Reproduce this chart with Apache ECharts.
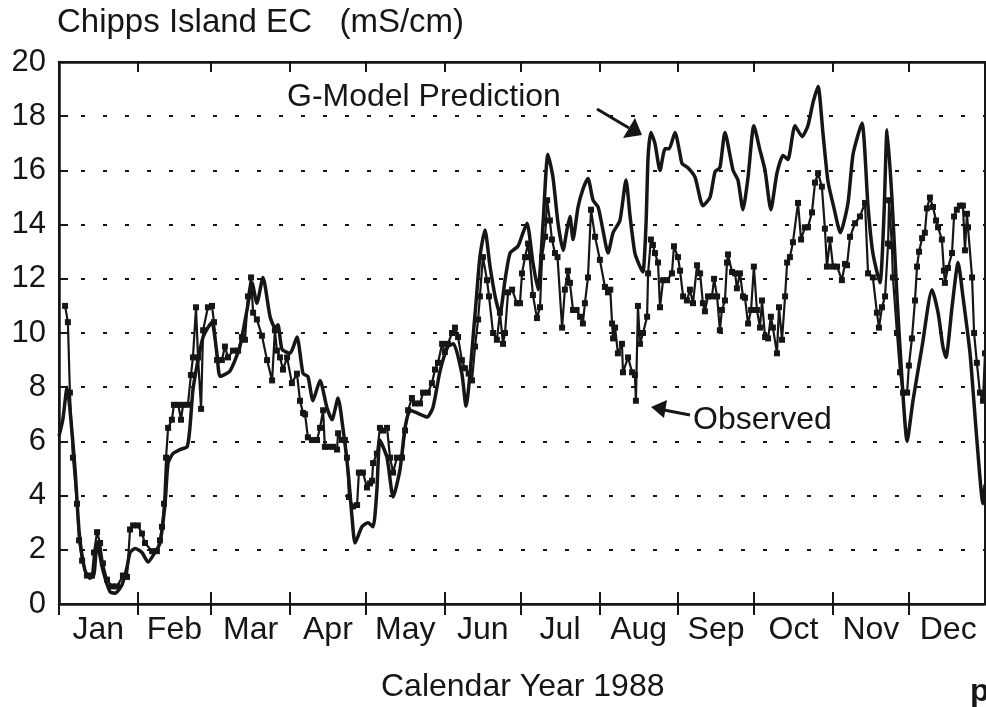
<!DOCTYPE html>
<html>
<head>
<meta charset="utf-8">
<script src="https://cdn.jsdelivr.net/npm/echarts@6/dist/echarts.min.js"></script>
<style>
  html, body { margin: 0; padding: 0; background: #fff; }
  #chart { width: 986px; height: 707px; }
</style>
</head>
<body>
<div id="chart"></div>
<script>
// day of year 1988 (0 = Jan 1)
const monthNames = ["Jan", "Feb", "Mar", "Apr", "May", "Jun", "Jul", "Aug", "Sep", "Oct", "Nov", "Dec"];
const monthStarts = [0, 31, 60, 91, 121, 152, 182, 213, 244, 274, 305, 335];
const monthMids = [15.5, 45.5, 75.5, 106, 136.5, 167, 197.5, 228.5, 259, 289.5, 320, 350.5];
const yTicks = [0, 2, 4, 6, 8, 10, 12, 14, 16, 18, 20];

// G-Model prediction
const predDays = [0, 1.5, 3.2, 4.5, 6.3, 8, 10.2, 12.2, 13.8, 15, 17.3, 20.1, 22.1, 24.8, 26.8, 28, 30, 32.7, 35.1, 37.8,
  39.8, 41.8, 43, 44.9, 47.7, 50.5, 51.6, 52.8, 54.8, 56.8, 58.7, 60.3, 62.3, 63.5, 67.4, 71.3, 74.1, 76.1, 78, 80.4,
  83.2, 85.1, 86.3, 87.9, 91.1, 93.8, 96.2, 98.1, 100.1, 102.9, 105.6, 107.6, 110, 111.9, 113.9, 115.5, 116.7, 119.4, 121.8, 123.8,
  125.3, 126.5, 129.3, 131.7, 134.4, 136.4, 138.4, 141.1, 145.1, 147.4, 150.2, 153.3, 155.5, 158.8, 160.4, 164, 165.9, 167.9, 169.9, 171.9,
  173.8, 175.8, 177.8, 180.9, 182.9, 184.5, 186.8, 188.8, 190.8, 192.7, 194.7, 196.7, 198.7, 200.2, 201.4, 202.6, 204.6, 206.5, 208.5, 210.5,
  212.5, 214.4, 216.4, 218.4, 221.1, 223.5, 225.1, 227, 229, 230.2, 231.4, 232.2, 233.3, 234.9, 236.9, 238.9, 240.5, 242.8, 244.8, 245.6,
  247.9, 250.7, 253.8, 256.6, 258.6, 260.5, 262.5, 265.7, 267.6, 269.6, 271.6, 273.9, 276.3, 278.3, 280.6, 283, 285.4, 287.3, 290.1, 292.9,
  295.2, 297.2, 299.2, 301.1, 303.1, 305.5, 308, 311, 313, 316.5, 318.9, 320.8, 323.6, 325.2, 326.4, 328.3, 330.3, 332.3, 334.3, 336.6,
  340.2, 344.1, 346.5, 348.4, 349.6, 352, 354.4, 356.3, 359.1, 361.8, 364.2, 365];
const predValues = [6.2, 6.8, 8.0, 7.0, 5.0, 2.6, 1.25, 0.95, 1.1, 2.25, 1.25, 0.45, 0.4, 0.7, 1.35, 1.9, 2.05, 1.9, 1.55, 1.9,
  2.25, 3.7, 5.2, 5.55, 5.7, 5.8, 6.5, 7.9, 9.0, 9.85, 10.2, 10.4, 9.2, 8.4, 8.6, 9.5, 10.85, 11.85, 11.1, 12.05,
  10.6, 10.2, 10.3, 9.4, 9.25, 9.85, 8.5, 8.4, 7.5, 8.25, 7.25, 6.8, 7.6, 6.5, 4.95, 3.2, 2.25, 2.85, 3.0, 2.85,
  4.2, 6.05, 5.4, 3.95, 4.95, 6.5, 7.15, 7.05, 6.9, 7.25, 8.6, 9.5, 9.6, 8.5, 7.3, 10.7, 12.8, 13.8, 12.45, 11.35,
  10.7, 11.95, 12.95, 13.2, 13.7, 14.05, 12.6, 11.6, 14.05, 16.6, 15.75, 14.05, 13.05, 13.8, 14.3, 13.45, 14.65, 15.3, 15.7, 14.9,
  14.65, 13.8, 12.95, 13.7, 14.15, 15.65, 14.3, 12.95, 12.45, 12.25, 14.05, 16.5, 17.4, 17.0, 16.0, 16.8, 16.8, 17.4, 16.6, 16.25,
  16.1, 15.75, 14.7, 15.0, 15.95, 16.1, 17.4, 16.0, 15.65, 14.55, 15.75, 17.65, 16.75, 16.0, 14.55, 15.9, 16.55, 16.4, 17.65, 17.25,
  17.65, 18.5, 19.1, 17.4, 15.6, 14.6, 13.7, 14.8, 16.6, 17.75, 14.65, 12.95, 11.85, 14.4, 17.5, 15.0, 11.35, 8.25, 6.0, 7.5,
  9.5, 11.6, 10.75, 9.5, 9.1, 10.95, 12.6, 11.35, 9.25, 6.05, 3.7, 4.4];

// Observed
const obsDays = [2.4, 3.5, 4.3, 5.5, 7.1, 7.9, 9.1, 11, 13, 13.8, 15, 16.2, 17.3, 18.9, 20.9, 22.9, 25.2, 26.8, 28, 29.2,
  31.1, 32.7, 33.9, 36.7, 38.6, 39.8, 40.6, 41.4, 42.2, 43, 44.5, 45.3, 47, 48.1, 48.9, 50.8, 52, 52.8, 54, 54.8,
  56, 56.8, 58.7, 60.3, 61.1, 62.3, 64.2, 65.4, 66.6, 68.6, 70.6, 72.1, 73.3, 74.5, 75.7, 76.5, 78, 80, 82, 84,
  85.1, 85.9, 87.1, 88.3, 89.9, 91.8, 93.8, 95, 96.2, 97, 98.1, 99.7, 101.7, 102.9, 104.1, 104.8, 106, 108, 109.6, 110,
  111.5, 112.7, 113.5, 114.3, 115.9, 117.5, 118.2, 119.8, 121.4, 122.6, 123.4, 123.8, 125.3, 126.5, 127.7, 129.3, 130.5, 131.7, 133.2, 135.2,
  136.4, 137.6, 139.1, 140.3, 142.3, 143.5, 145.4, 147, 148.2, 149.4, 151, 152.1, 153.3, 154.9, 156.1, 157.3, 158.8, 160, 161.5, 162.8,
  164, 165.2, 165.9, 167.1, 168.7, 169.5, 171.1, 172.6, 173.8, 175, 175.8, 177, 178.6, 180.5, 181.7, 182.5, 183.7, 184.9, 185.5, 186.8,
  188.4, 189.6, 190.4, 191.6, 192.4, 193.5, 194.3, 195.5, 196.5, 198.3, 199.4, 200.6, 201.4, 202.6, 204, 205.4, 206.5, 207.3, 208.5, 209.7,
  211.3, 213.2, 215.2, 216.4, 217.3, 218, 218.4, 219.2, 220.3, 221.9, 222.3, 224.3, 225.9, 227, 227.4, 228.2, 229, 230.2, 231.8, 232.2,
  233.3, 234.1, 234.9, 236.1, 236.9, 238.1, 239.7, 241.6, 242.4, 244, 244.8, 246, 247.5, 248.7, 249.9, 251.5, 252.7, 253.8, 254.6, 255.8,
  257.4, 258.2, 259.4, 260.5, 261.3, 262.5, 263.3, 263.7, 265.3, 266.5, 267.2, 268.4, 269.6, 270.4, 271.6, 272.8, 273.9, 275.1, 276.3, 277.1,
  278.3, 279.5, 280.6, 281.4, 283, 283.8, 285, 286.2, 287, 288.1, 289.3, 291.3, 292.5, 294, 295.2, 296.8, 298, 299.2, 300.7, 301.9,
  302.7, 303.9, 305.1, 306.7, 308.6, 309.8, 310.6, 311.8, 313.8, 315.7, 317.7, 318.9, 320.8, 322.4, 323.2, 324.4, 325.6, 326.8, 327.2, 328.3,
  328.7, 330.3, 331.5, 332.7, 334.3, 335, 336.2, 337.4, 338.2, 339, 340.2, 341.3, 342.1, 343.3, 344.5, 345.7, 346.5, 348, 348.8, 349.2,
  350.4, 352, 352.8, 353.9, 355.1, 356.3, 357.1, 357.9, 358.3, 359.9, 360.7, 361.8, 363, 364.2, 365];
const obsValues = [11.0, 10.4, 7.8, 5.4, 3.7, 2.35, 1.6, 1.05, 1.05, 1.9, 2.65, 2.25, 1.5, 0.9, 0.65, 0.65, 1.05, 1.0, 2.75, 2.9,
  2.9, 2.6, 2.25, 1.95, 1.95, 2.35, 2.85, 3.7, 5.4, 6.5, 6.8, 7.35, 7.35, 6.8, 7.35, 7.35, 8.45, 9.1, 10.95, 9.1,
  7.2, 10.1, 10.95, 11.0, 10.4, 9.0, 9.0, 9.5, 9.1, 9.35, 9.35, 9.85, 9.75, 11.35, 12.05, 10.75, 10.5, 9.9, 9.0, 8.25,
  10.1, 9.35, 9.1, 8.65, 9.1, 8.15, 8.5, 7.5, 7.05, 7.0, 6.15, 6.05, 6.05, 6.5, 7.15, 5.8, 5.8, 5.8, 5.7, 6.3,
  6.05, 6.05, 5.4, 3.95, 3.6, 3.65, 4.85, 4.85, 4.3, 4.45, 4.55, 5.2, 5.55, 6.5, 6.4, 6.5, 5.4, 4.85, 5.4, 5.4,
  6.4, 7.15, 7.6, 7.4, 7.4, 7.8, 7.8, 8.15, 8.65, 8.9, 9.6, 9.3, 9.6, 10.0, 10.2, 9.85, 9.0, 8.7, 8.5, 8.25,
  9.5, 10.5, 11.35, 12.8, 11.95, 11.35, 10.0, 9.75, 10.75, 9.6, 10.0, 11.5, 11.6, 11.1, 11.1, 12.2, 12.8, 13.3, 12.8, 11.4,
  10.55, 10.95, 12.8, 13.55, 14.9, 14.15, 13.45, 12.95, 12.8, 10.2, 11.6, 12.3, 11.85, 10.85, 10.85, 10.6, 10.35, 11.1, 12.05, 14.55,
  13.55, 12.7, 11.7, 11.5, 11.6, 10.35, 9.8, 10.2, 9.25, 9.6, 8.55, 9.1, 8.55, 8.45, 7.5, 11.0, 9.6, 10.0, 10.6, 12.2,
  13.45, 13.25, 12.95, 12.6, 10.95, 11.95, 11.95, 12.2, 13.2, 12.8, 12.3, 11.35, 11.2, 11.6, 11.1, 12.5, 12.2, 11.1, 10.8, 11.35,
  11.35, 12.0, 11.35, 10.1, 10.85, 11.2, 12.6, 12.9, 12.25, 12.2, 11.65, 12.2, 11.35, 11.3, 10.35, 10.85, 12.45, 10.85, 10.2, 11.2,
  9.85, 9.8, 10.6, 10.2, 9.25, 10.95, 9.75, 11.35, 12.6, 12.8, 13.35, 14.8, 13.45, 13.9, 13.9, 14.45, 15.55, 15.9, 15.4, 13.85,
  12.45, 13.45, 12.45, 12.45, 11.95, 12.55, 12.5, 13.55, 14.05, 14.3, 14.8, 12.2, 12.05, 10.75, 10.2, 10.95, 11.35, 13.3, 14.9, 13.2,
  12.05, 10.0, 8.55, 7.8, 7.8, 8.8, 9.8, 11.2, 12.45, 13.0, 13.5, 13.7, 14.6, 15.0, 14.65, 14.15, 13.9, 13.45, 12.3, 11.85,
  12.4, 12.95, 14.3, 14.55, 14.7, 14.7, 13.05, 14.4, 13.9, 12.05, 10.0, 8.9, 7.8, 7.5, 9.25];

const predData = predDays.map((d, i) => [d, predValues[i]]);
const obsData = obsDays.map((d, i) => [d, obsValues[i]]);

const ink = "#161616";
const font = "Liberation Sans, Arial, Helvetica, sans-serif";
const gridBox = { left: 59, right: 1, top: 62, bottom: 103 };

let myChart = echarts.init(document.getElementById("chart"));
let option = {
  backgroundColor: "#fff",
  animation: false,
  title: {
    text: "Chipps Island EC   (mS/cm)",
    left: 52,
    top: 1,
    textStyle: { fontFamily: font, fontSize: 33, fontWeight: "normal", color: ink }
  },
  grid: [
    Object.assign({ show: true, borderColor: ink, borderWidth: 2 }, gridBox),
    Object.assign({ show: false }, gridBox)
  ],
  xAxis: [
    {
      type: "value",
      gridIndex: 0,
      position: "bottom",
      min: 0,
      max: 365,
      axisLine: { lineStyle: { color: ink, width: 2.5 } },
      axisTick: { customValues: monthStarts, length: 11, lineStyle: { color: ink, width: 2 } },
      axisLabel: {
        customValues: monthMids,
        formatter: v => monthNames[monthMids.indexOf(v)],
        fontFamily: font,
        fontSize: 32,
        color: ink,
        margin: 10
      },
      splitLine: { show: false }
    },
    {
      type: "value",
      gridIndex: 0,
      position: "top",
      min: 0,
      max: 365,
      axisLine: { lineStyle: { color: ink, width: 2.5 } },
      axisTick: { inside: true, customValues: monthStarts, length: 10, lineStyle: { color: ink, width: 2 } },
      axisLabel: { show: false },
      splitLine: { show: false }
    },
    {
      type: "value",
      gridIndex: 1,
      position: "bottom",
      min: 0,
      max: 365,
      axisLine: { show: false },
      axisTick: { inside: true, customValues: monthStarts, length: 12, lineStyle: { color: ink, width: 2 } },
      axisLabel: { show: false },
      splitLine: { show: false }
    }
  ],
  yAxis: [
    {
      type: "value",
      gridIndex: 0,
      min: 0,
      max: 20,
      interval: 2,
      axisLine: { show: true, lineStyle: { color: ink, width: 2.5 } },
      axisTick: { inside: true, length: 9, lineStyle: { color: ink, width: 2 } },
      axisLabel: { fontFamily: font, fontSize: 31, color: ink, margin: 13 },
      splitLine: { show: true, lineStyle: { color: ink, width: 2, type: [4, 18] } }
    },
    {
      type: "value",
      gridIndex: 1,
      min: 0,
      max: 20,
      show: false
    }
  ],
  graphic: [
    {
      type: "text",
      left: 287,
      top: 81,
      style: { text: "G-Model Prediction", font: "32px " + font, fill: ink }
    },
    {
      type: "line",
      shape: { x1: 597, y1: 109, x2: 629, y2: 128 },
      style: { stroke: ink, lineWidth: 3 }
    },
    {
      type: "polygon",
      shape: { points: [[642, 135], [623, 138], [635, 118]] },
      style: { fill: ink }
    },
    {
      type: "text",
      left: 693,
      top: 404,
      style: { text: "Observed", font: "32px " + font, fill: ink }
    },
    {
      type: "line",
      shape: { x1: 690, y1: 415, x2: 664, y2: 410 },
      style: { stroke: ink, lineWidth: 3 }
    },
    {
      type: "polygon",
      shape: { points: [[651, 407], [667, 400], [664, 418]] },
      style: { fill: ink }
    },
    {
      type: "text",
      left: 381,
      top: 671,
      style: { text: "Calendar Year 1988", font: "32px " + font, fill: ink }
    },
    {
      type: "text",
      left: 970,
      top: 676,
      style: { text: "p", font: "bold 32px " + font, fill: ink }
    }
  ],
  series: [
    {
      name: "G-Model Prediction",
      type: "line",
      xAxisIndex: 0,
      yAxisIndex: 0,
      data: predData,
      showSymbol: false,
      smooth: 0.2,
      lineStyle: { color: ink, width: 3.5 },
      z: 3
    },
    {
      name: "Observed",
      type: "line",
      xAxisIndex: 0,
      yAxisIndex: 0,
      data: obsData,
      symbol: "rect",
      symbolSize: 6,
      itemStyle: { color: ink },
      lineStyle: { color: ink, width: 2.2 },
      z: 4
    }
  ]
};
myChart.setOption(option);
</script>
</body>
</html>
